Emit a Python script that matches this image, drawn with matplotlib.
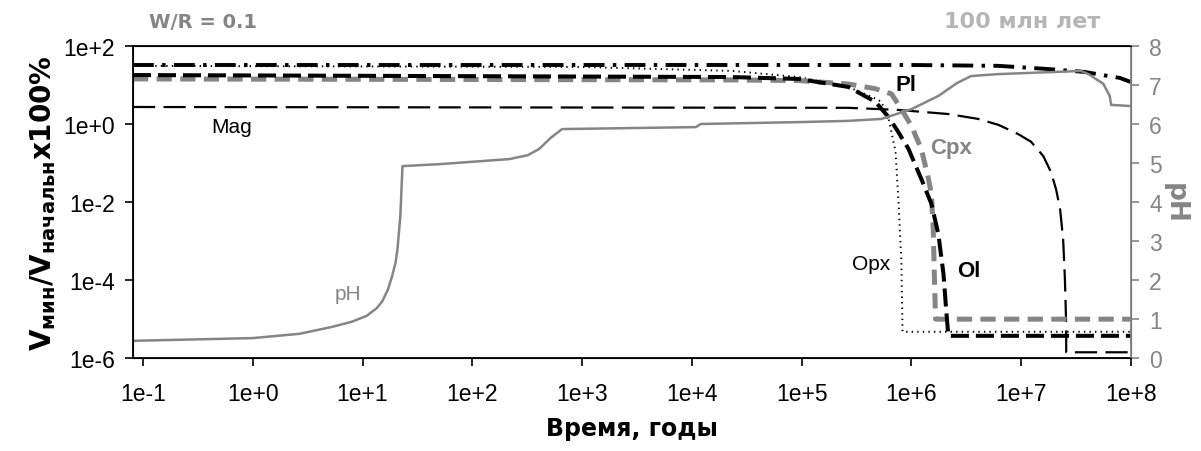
import matplotlib
matplotlib.use('Agg')
from matplotlib import pyplot as plt

plt.rcParams['font.family'] = ['Liberation Sans', 'DejaVu Sans']
plt.rcParams['mathtext.fontset'] = 'custom'
plt.rcParams['mathtext.bf'] = 'DejaVu Sans:bold'
plt.rcParams['mathtext.rm'] = 'DejaVu Sans:bold'
plt.rcParams['mathtext.default'] = 'bf'
plt.rcParams['lines.scale_dashes'] = False

# mineral volumes, % of initial (left axis)
pl_t = [0.081, 1e6, 6.2e6, 1.76e7, 3.8e7, 6.2e7, 7.9e7, 1e8]
pl_v = [32.6, 32.6, 31, 25.7, 21.6, 17.0, 15.2, 11.9]

opx_t = [0.081, 1e3, 2.3e4, 9.4e4, 2.67e5, 4.7e5, 5.33e5, 6.2e5, 7.16e5, 7.6e5, 8.1e5, 8.3e5, 1e8]
opx_v = [31, 29, 23, 16, 8.9, 4.5, 3.7, 1.35, 0.2, 0.012, 3e-4, 4.7e-6, 4.7e-6]

ol_t = [0.081, 2.3e4, 9.4e4, 2.67e5, 4.7e5, 6.2e5, 7.6e5, 9.4e5, 1.23e6, 1.52e6, 1.76e6,
        1.96e6, 2.08e6, 2.17e6, 1e8]
ol_v = [18, 16, 14.3, 8.9, 3.7, 1.5, 0.62, 0.23, 0.039, 9.0e-3, 1.5e-3,
        1.4e-4, 1.5e-5, 3.7e-6, 3.7e-6]

cpx_t = [0.081, 2.3e4, 9.4e4, 2.67e5, 4.7e5, 6.58e5, 8.1e5, 1.0e6, 1.23e6, 1.43e6, 1.52e6,
         1.58e6, 1.62e6, 1.66e6, 1e8]
cpx_v = [14.3, 13.5, 13, 10.6, 8.0, 5.9, 2.4, 0.89, 0.23, 0.039, 0.016,
         2e-3, 1.1e-4, 9.9e-6, 9.9e-6]

mag_t = [0.081, 2.67e5, 7.6e5, 2.17e6, 4.06e6, 6.2e6, 9.4e6, 1.23e7, 1.59e7, 1.87e7, 2.08e7,
         2.26e7, 2.41e7, 2.5e7, 2.56e7, 2.57e7, 2.57e7, 1e8]
mag_v = [2.73, 2.6, 2.3, 1.8, 1.35, 0.95, 0.55, 0.35, 0.15, 0.058, 0.021,
         6.6e-3, 1.1e-3, 1.1e-4, 1.0e-5, 3.1e-6, 1.4e-6, 1.4e-6]

# pH (right axis)
ph_t = [0.081, 1.0, 2.67, 5.33, 8.0, 10.9, 13.5, 15.1, 17.0, 18.6, 20.0, 20.8, 22.1, 23.1,
        50, 217, 320, 406, 520, 658, 1.09e4, 1.2e4, 1e5, 2.67e5, 5.33e5, 1.0e6, 1.76e6,
        2.6e6, 3.5e6, 6.2e6, 3.5e7, 4.1e7, 5.6e7, 6.4e7, 6.6e7, 1e8]
ph_v = [0.44, 0.51, 0.62, 0.80, 0.93, 1.08, 1.28, 1.45, 1.75, 2.10, 2.45, 2.79, 3.64, 4.92,
        4.97, 5.10, 5.20, 5.36, 5.65, 5.87, 5.92, 6.0, 6.05, 6.08, 6.13, 6.38, 6.72,
        7.05, 7.23, 7.28, 7.36, 7.28, 7.03, 6.72, 6.49, 6.46]

xticks = [1e-1, 1e0, 1e1, 1e2, 1e3, 1e4, 1e5, 1e6, 1e7, 1e8]
xlabels = ['1e-1', '1e+0', '1e+1', '1e+2', '1e+3', '1e+4', '1e+5', '1e+6', '1e+7', '1e+8']
yticks = [1e-6, 1e-4, 1e-2, 1e0, 1e2]
ylabels = ['1e-6', '1e-4', '1e-2', '1e+0', '1e+2']

gray = '#858585'
heavy = 'DejaVu Sans'

fig = plt.figure(figsize=(12.01, 4.52), dpi=100)
ax = fig.add_axes([0.1107, 0.2058, 0.8310, 0.6902])
ax2 = ax.twinx()

ax.plot(mag_t, mag_v, color='black', linewidth=1.6, dashes=(16, 6))
ax.plot(opx_t, opx_v, color='black', linewidth=1.4, dashes=(1, 3))
ax.plot(cpx_t, cpx_v, color=gray, linewidth=3.6, dashes=(11, 6))
ax.plot(ol_t, ol_v, color='black', linewidth=2.9, dashes=(13, 5))
ax.plot(pl_t, pl_v, color='black', linewidth=2.8, dashes=(15, 6, 2.5, 6))

ax2.plot(ph_t, ph_v, color=gray, linewidth=1.8)

ax.set_xscale('log')
ax.set_yscale('log')
ax.set_xlim(0.081, 1e8)
ax.set_ylim(1e-6, 1e2)
ax.set_xticks(xticks)
ax.set_xticklabels(xlabels)
ax.set_yticks(yticks)
ax.set_yticklabels(ylabels)
ax.minorticks_off()
ax.tick_params(labelsize=16.5, length=6, width=1.2, pad=7)
ax.tick_params(axis='x', pad=11)

ax2.set_ylim(0, 8)
ax2.set_yticks(range(0, 9))
ax2.tick_params(labelsize=16.5, length=6, width=1.2, colors=gray, pad=7)
ax2.spines['right'].set_color(gray)
for s in ['left', 'top', 'bottom']:
    ax.spines[s].set_linewidth(1.3)
ax2.spines['right'].set_linewidth(1.3)

ax.set_xlabel('Время, годы', fontsize=17, fontweight='bold', family=heavy, labelpad=8)
ax.set_ylabel(r'V$_{мин}$/V$_{начальн}$x100%', fontsize=20, fontweight='bold', family=heavy,
              labelpad=4)
ax2.set_ylabel('pH', fontsize=19, fontweight='bold', family=heavy, color=gray,
               rotation=270, labelpad=19)

ax.text(0.645, 0.84, 'Mag', fontsize=15, ha='center', va='center')
ax.text(7.3, 4.4e-5, 'pH', fontsize=15, color=gray, ha='center', va='center')
ax.text(9.0e5, 10.6, 'Pl', fontsize=16, fontweight='bold', ha='center', va='center')
ax.text(2.3e6, 0.25, 'Cpx', fontsize=16, fontweight='bold', color=gray, ha='center', va='center')
ax.text(4.3e5, 2.6e-4, 'Opx', fontsize=15, ha='center', va='center')
ax.text(3.3e6, 1.7e-4, 'Ol', fontsize=16, fontweight='bold', ha='center', va='center')

fig.text(203 / 1201, 1 - 22 / 452, 'W/R = 0.1', fontsize=14, fontweight='bold', family=heavy,
         color=gray, ha='center', va='center')
fig.text(1022 / 1201, 1 - 22 / 452, '100 млн лет', fontsize=16, fontweight='bold', family=heavy,
         color='#b5b5b5', ha='center', va='center')

fig.savefig('out.png', dpi=100)
